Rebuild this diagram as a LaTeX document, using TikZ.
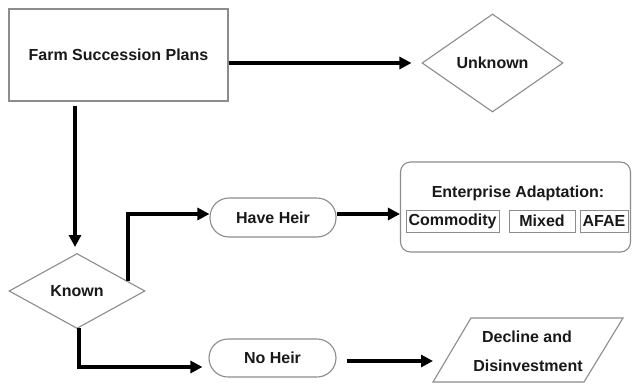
\documentclass[tikz,border=0pt]{standalone}
\usepackage{fontspec}
\setmainfont{Liberation Sans}
\usetikzlibrary{arrows.meta,shapes.geometric,calc}
\begin{document}
\begin{tikzpicture}[x=1pt,y=-1pt,
  box/.style={draw=black!45,line width=1.1pt,fill=white,inner sep=0pt,font=\fontsize{16}{19}\selectfont\bfseries,text=black!90},
  dia/.style={box,diamond,aspect=1.4},
  pill/.style={box,rounded corners=19pt},
  inbox/.style={box,line width=1pt,minimum height=22pt},
  lbl/.style={inner sep=0pt,font=\fontsize{16}{19}\selectfont\bfseries,text=black!90},
  arr/.style={line width=3.5pt,-{Triangle[length=12pt,width=12pt]}},
  ln/.style={line width=3.5pt}]
\fill[white] (0,0) rectangle (632,383);
\useasboundingbox (0,0) rectangle (632,383);

\node[box,minimum width=219pt,minimum height=92pt] (farm) at (118.5,55) {Farm Succession Plans};
\node[dia,minimum width=141pt,minimum height=98pt] (unknown) at (492.5,63) {Unknown};
\node[dia,minimum width=136pt,minimum height=75pt] (known) at (77,291) {Known};
\node[pill,minimum width=126pt,minimum height=39pt] (have) at (273,217.5) {Have Heir};
\node[pill,minimum width=127pt,minimum height=38pt] (noheir) at (272.5,358) {No Heir};
\node[box,rounded corners=10pt,minimum width=230pt,minimum height=90pt] (ent) at (515.5,207) {};
\node[lbl] (enttitle) at (518,193) {Enterprise Adaptation:};
\node[inbox,minimum width=93pt] (commodity) at (452.5,221) {Commodity};
\node[inbox,minimum width=66pt] (mixed) at (542,221) {Mixed};
\node[inbox,minimum width=48pt] (afae) at (604,221) {AFAE};

\draw[draw=black!45,line width=1.1pt,fill=white] (433,382) -- (471,318) -- (623,318) -- (584,382) -- cycle;
\node[lbl] (decline1) at (527,337) {Decline and};
\node[lbl] (decline2) at (528,366) {Disinvestment};
\coordinate (declin) at (433,361);

\coordinate (k1) at (128,281);
\coordinate (k2) at (79,328);
\coordinate (a1) at (75,106);
\coordinate (a2) at (75,247);

\draw[arr] (farm.east |- unknown.west) -- ([xshift=-10pt]unknown.west);
\draw[arr] (a1) -- (a2);
\draw[arr] (k1) |- (have.west |- 0,214);
\draw[arr] (have.east |- 0,214) -- (ent.west |- 0,214);
\draw[arr] (k2) |- ([xshift=-6pt]noheir.west |- 0,367);
\draw[arr] ([xshift=10pt]noheir.east |- declin) -- (declin);
\end{tikzpicture}
\end{document}
